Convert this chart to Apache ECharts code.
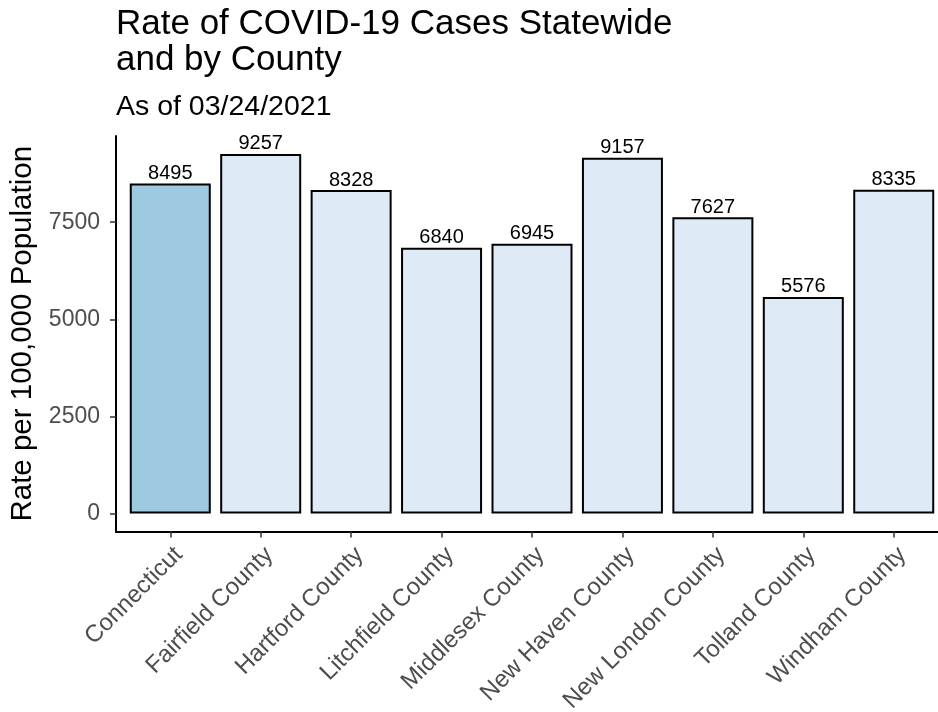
<!DOCTYPE html>
<html>
<head>
<meta charset="utf-8">
<script src="https://cdn.jsdelivr.net/npm/echarts@6/dist/echarts.min.js"></script>
<style>
html,body{margin:0;padding:0;background:#fff;}
#chart{width:938px;height:712px;}
</style>
</head>
<body>
<div id="chart"></div>
<script>
const categories = ["Connecticut","Fairfield County","Hartford County","Litchfield County","Middlesex County","New Haven County","New London County","Tolland County","Windham County"];
const rates = [8495, 9257, 8328, 6840, 6945, 9157, 7627, 5576, 8335];
const yTicks = [0, 2500, 5000, 7500];

const FONT = '"Liberation Sans", Arial, sans-serif';
const statewideColor = '#9ECAE1';
const countyColor = '#DEEBF7';

const maxV = Math.max(...rates);
const expand = maxV * 0.05;
const xIdx = categories.map((c, i) => i);

const chart = echarts.init(document.getElementById('chart'), null, {renderer: 'canvas'});
chart.setOption({
  animation: false,
  backgroundColor: '#fff',
  textStyle: {fontFamily: FONT},
  title: [
    {
      text: 'Rate of COVID-19 Cases Statewide\nand by County',
      left: 116, top: 6, padding: 0,
      textStyle: {fontFamily: FONT, fontSize: 35, fontWeight: 'normal', color: '#000', lineHeight: 36}
    },
    {
      text: 'As of 03/24/2021',
      left: 116, top: 93, padding: 0,
      textStyle: {fontFamily: FONT, fontSize: 28.5, fontWeight: 'normal', color: '#000', lineHeight: 29}
    }
  ],
  grid: {left: 116, top: 136, width: 832, height: 395.5, containLabel: false, outerBoundsMode: 'none'},
  xAxis: {
    type: 'value',
    min: -0.6, max: categories.length - 1 + 0.6,
    splitLine: {show: false},
    axisLine: {show: true, onZero: false, lineStyle: {color: '#000', width: 2}},
    axisTick: {show: true, length: 6, customValues: xIdx, lineStyle: {color: '#333', width: 1.5}},
    axisLabel: {
      customValues: xIdx,
      rotate: 45, margin: 11,
      align: 'right', verticalAlign: 'top', lineHeight: 24,
      fontFamily: FONT, fontSize: 24, color: '#4D4D4D',
      formatter: v => categories[Math.round(v)]
    }
  },
  yAxis: {
    type: 'value',
    min: -expand, max: maxV + expand,
    name: 'Rate per 100,000 Population',
    nameLocation: 'middle', nameGap: 76,
    nameTextStyle: {fontFamily: FONT, fontSize: 29.5, color: '#000'},
    splitLine: {show: false},
    axisLine: {show: true, onZero: false, lineStyle: {color: '#000', width: 2}},
    axisTick: {show: true, length: 6, customValues: yTicks, lineStyle: {color: '#333', width: 1.5}},
    axisLabel: {customValues: yTicks, margin: 16, fontFamily: FONT, fontSize: 23, color: '#4D4D4D',
      formatter: v => String(Math.round(v))}
  },
  series: [{
    type: 'bar',
    barWidth: 81,
    data: rates.map((v, i) => [i, v]),
    itemStyle: {
      borderColor: '#000', borderWidth: 2,
      color: p => categories[p.dataIndex] === 'Connecticut' ? statewideColor : countyColor
    },
    label: {
      show: true, position: 'top', distance: 0,
      fontFamily: FONT, fontSize: 20, color: '#000',
      formatter: p => String(p.value[1])
    }
  }]
});
</script>
</body>
</html>
